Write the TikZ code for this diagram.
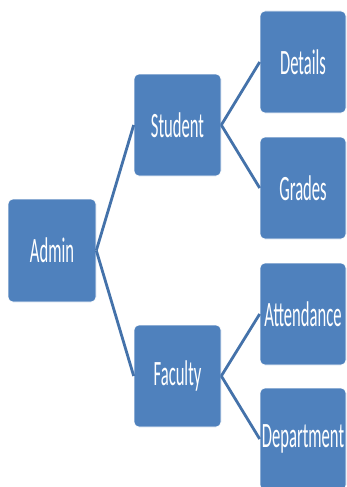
\documentclass[tikz,border=0pt]{standalone}
\usepackage{fontspec}
\setmainfont{Carlito}
\usepackage{graphicx}
\definecolor{boxblue}{RGB}{79,129,189}
\definecolor{lineblue}{RGB}{68,114,170}
\newcommand{\tallt}[1]{\scalebox{1}[2.15]{#1}}
\tikzset{
  box/.style={fill=boxblue, draw=white, line width=0.6pt, rounded corners=5pt,
    minimum width=87pt, minimum height=102pt, inner sep=0pt, text=white,
    font=\fontsize{16.6}{16.6}\selectfont},
  link/.style={draw=lineblue, line width=2.8pt}
}
\begin{document}
\begin{tikzpicture}[x=1pt,y=-1pt]
\useasboundingbox (0,0) rectangle (346,487);
\clip (0,0) rectangle (346,487);
\fill[white] (0,0) rectangle (346,487);
\node[box, minimum width=88pt, minimum height=103pt] (admin) at (52,250.5) {\tallt{Admin}};
\node[box] (student) at (177.5,125) {\tallt{Student}};
\node[box] (faculty) at (177.5,376) {\tallt{Faculty}};
\node[box, minimum width=86pt] (details) at (303,62) {\tallt{Details}};
\node[box, minimum width=86pt] (grades) at (303,188) {\tallt{Grades}};
\node[box, minimum width=86pt] (attend) at (303,314) {\tallt{Attendance}};
\node[box, minimum width=86pt] (dept) at (303,439) {\tallt{Department}};
\draw[link] (admin.east) -- (student.west);
\draw[link] (admin.east) -- (faculty.west);
\draw[link] (student.east) -- (details.west);
\draw[link] (student.east) -- (grades.west);
\draw[link] (faculty.east) -- (attend.west);
\draw[link] (faculty.east) -- (dept.west);
\end{tikzpicture}
\end{document}
